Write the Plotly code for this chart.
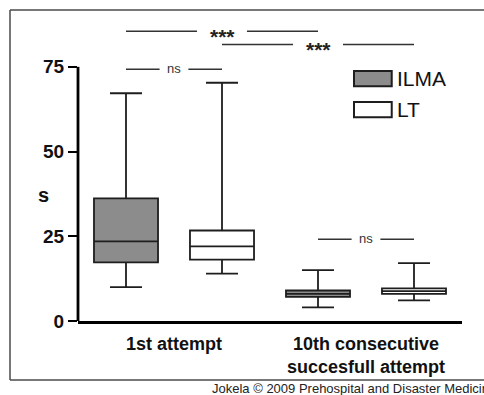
import plotly.graph_objects as go

# Intubation time (s) per group and device
categories = ["1st attempt", "10th consecutive<br>succesfull attempt"]
devices = ["ILMA", "LT"]

ilma_low = [10.0, 4.0]
ilma_q1 = [17.3, 7.1]
ilma_median = [23.5, 8.0]
ilma_q3 = [36.2, 9.0]
ilma_high = [67.2, 15.0]

lt_low = [14.0, 6.1]
lt_q1 = [18.1, 8.0]
lt_median = [22.0, 8.8]
lt_q3 = [26.7, 9.6]
lt_high = [70.3, 17.1]

y_ticks = [0, 25, 50, 75]

# significance comparisons: (box index a, box index b, level, label)
comparisons = [
    (0, 2, 85.5, "***"),
    (1, 3, 81.6, "***"),
    (0, 1, 74.3, "ns"),
    (2, 3, 24.1, "ns"),
]

FONT = "Liberation Sans, Arial, sans-serif"
GRAY = "#8c8c8c"
INK = "#1e1e1e"

fig = go.Figure()

series = [
    ("ILMA", GRAY, ilma_low, ilma_q1, ilma_median, ilma_q3, ilma_high, 0),
    ("LT", "white", lt_low, lt_q1, lt_median, lt_q3, lt_high, 1),
]
for name, fill, lo, q1, med, q3, hi, off in series:
    xs = [2 * g + off for g in range(len(categories))]
    fig.add_trace(go.Box(
        name=name, x=xs, lowerfence=lo, q1=q1, median=med, q3=q3, upperfence=hi,
        width=0.667, whiskerwidth=0.5, fillcolor=fill,
        line=dict(color=INK, width=1.8), boxpoints=False, showlegend=False,
        hoverinfo="skip",
    ))

shapes = []
annotations = []

# y axis line from 0 to 75 only
shapes.append(dict(type="line", xref="paper", yref="y", x0=0, x1=0, y0=0, y1=75,
                   line=dict(color="black", width=2.8), layer="above"))

# outer frame: top, bottom and left edges, running off the right of the page
frame_col = dict(color="#4a4a4a", width=1.5)
fx0, fx1 = (10 - 78) / 384, (484 - 78) / 384
fy0, fy1 = (321 - 380) / 305, (321 - 10) / 305
shapes.append(dict(type="line", xref="paper", yref="paper", x0=fx0, x1=fx1, y0=fy1, y1=fy1, line=frame_col))
shapes.append(dict(type="line", xref="paper", yref="paper", x0=fx0, x1=fx1, y0=fy0, y1=fy0, line=frame_col))
shapes.append(dict(type="line", xref="paper", yref="paper", x0=fx0, x1=fx0, y0=fy0, y1=fy1, line=frame_col))

# significance bars with a gap for the label
for a, b, lvl, lab in comparisons:
    gap = 0.26 if lab == "***" else 0.15
    mid = (a + b) / 2
    for x0, x1 in [(a, mid - gap), (mid + gap, b)]:
        shapes.append(dict(type="line", xref="x", yref="y", x0=x0, x1=x1, y0=lvl, y1=lvl,
                           line=dict(color="#333333", width=1.5)))
    if lab == "***":
        annotations.append(dict(x=mid, y=lvl, xref="x", yref="y", text="<b>***</b>",
                                showarrow=False, yshift=-5,
                                font=dict(family=FONT, size=21, color="#222222")))
    else:
        annotations.append(dict(x=mid, y=lvl, xref="x", yref="y", text="ns",
                                showarrow=False, yshift=1,
                                font=dict(family=FONT, size=13, color="#333333")))

# legend
legend_rows = [("ILMA", GRAY, 71.55), ("LT", "white", 62.35)]
for name, fill, yc in legend_rows:
    shapes.append(dict(type="rect", xref="x", yref="y", x0=2.375, x1=2.768,
                       y0=yc - 2.25, y1=yc + 2.25, fillcolor=fill,
                       line=dict(color=INK, width=2)))
    annotations.append(dict(x=2.80, y=yc, xref="x", yref="y", text=name, xanchor="left",
                            showarrow=False, font=dict(family=FONT, size=21, color="#111111")))

# y axis title
annotations.append(dict(x=(36 - 78) / 384, y=37.1, xref="paper", yref="y", text="<b>s</b>",
                        showarrow=False, font=dict(family=FONT, size=20, color="#111111")))

# credit line
annotations.append(dict(x=(210 - 78) / 384, y=(321 - 388) / 305, xref="paper", yref="paper",
                        text="Jokela © 2009 Prehospital and Disaster Medicine",
                        xanchor="left", yanchor="middle", showarrow=False,
                        font=dict(family=FONT, size=13, color="#222222")))

fig.update_layout(
    width=484, height=395,
    margin=dict(l=78, r=22, t=16, b=74),
    paper_bgcolor="white", plot_bgcolor="white",
    shapes=shapes, annotations=annotations,
    showlegend=False,
    xaxis=dict(
        range=[-0.5, 3.5], tickvals=[0.5, 2.5], ticktext=categories,
        showline=True, linecolor="black", linewidth=2.8, ticks="",
        showgrid=False, zeroline=False, ticklabelstandoff=4,
        tickfont=dict(family=FONT, size=18, color="#111111", weight="bold"),
    ),
    yaxis=dict(
        range=[0, 90], tickvals=y_ticks, showline=False, ticks="outside",
        ticklen=9, tickwidth=2, tickcolor="black", showgrid=False, zeroline=False,
        tickfont=dict(family=FONT, size=19, color="#111111", weight="bold"),
    ),
)

fig.write_html("out.html")
